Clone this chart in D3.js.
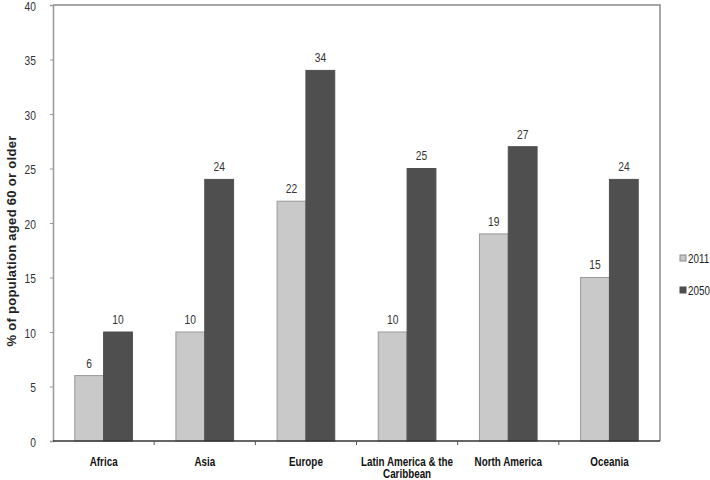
<!DOCTYPE html>
<html>
<head>
<meta charset="utf-8">
<script src="https://cdn.jsdelivr.net/npm/d3@7"></script>
<style>
  body { margin: 0; background: #fff; }
  text { font-family: "Liberation Sans Narrow", "Arial Narrow", "Liberation Sans", Arial, sans-serif; }
  .narrow { transform-box: fill-box; transform-origin: center; transform: scaleX(0.82); }
  .narrow-end { transform-box: fill-box; transform-origin: right center; transform: scaleX(0.82); }
  .narrow-start { transform-box: fill-box; transform-origin: left center; transform: scaleX(0.82); }
</style>
</head>
<body>
<div id="chart"></div>
<script>
const regions = ["Africa", "Asia", "Europe", "Latin America & the Caribbean", "North America", "Oceania"];
const regionLines = [["Africa"], ["Asia"], ["Europe"], ["Latin America & the", "Caribbean"], ["North America"], ["Oceania"]];
const years = ["2011", "2050"];
const values2011 = [6, 10, 22, 10, 19, 15];
const values2050 = [10, 24, 34, 25, 27, 24];
const yTicks = [0, 5, 10, 15, 20, 25, 30, 35, 40];

const width = 710;
const height = 480;
const margin = { top: 5, right: 50, bottom: 39, left: 53 };
const colors = { "2011": "#c9c9c9", "2050": "#4f4f4f" };

const svg = d3.select("#chart")
    .append("svg")
    .attr("width", width)
    .attr("height", height);

const x0 = d3.scaleBand()
    .domain(regions)
    .range([margin.left, width - margin.right])
    .paddingInner(0.43)
    .paddingOuter(0.215);

const x1 = d3.scaleBand()
    .domain(years)
    .range([0, x0.bandwidth()]);

const y = d3.scaleLinear()
    .domain([0, 40])
    .range([height - margin.bottom, margin.top]);

const data = regions.map((r, i) => ({ region: r, values: [
    { year: "2011", value: values2011[i] },
    { year: "2050", value: values2050[i] }
]}));

// frame: top and right
svg.append("path")
    .attr("d", `M${margin.left},${margin.top}H${width - margin.right}V${height - margin.bottom}`)
    .attr("fill", "none")
    .attr("stroke", "#8a8a8a")
    .attr("stroke-width", 1.5);

// y axis
const yAxis = svg.append("g")
    .attr("transform", `translate(${margin.left},0)`)
    .call(d3.axisLeft(y).tickValues(yTicks).tickSize(3).tickPadding(14));
yAxis.select(".domain").attr("stroke", "#999").attr("stroke-width", 1.5);
yAxis.selectAll(".tick line").attr("stroke", "#999");
yAxis.selectAll(".tick text")
    .attr("class", "narrow-end")
    .attr("font-size", 12.5)
    .attr("dy", "0.42em")
    .attr("fill", "#333")
    .style("font-family", "'Liberation Sans', Arial, sans-serif");

// bars
const groups = svg.selectAll("g.group")
    .data(data)
    .enter()
    .append("g")
    .attr("class", "group")
    .attr("transform", d => `translate(${x0(d.region)},0)`);

groups.selectAll("rect")
    .data(d => d.values)
    .enter()
    .append("rect")
    .attr("x", d => x1(d.year))
    .attr("y", d => y(d.value))
    .attr("width", x1.bandwidth())
    .attr("height", d => y(0) - y(d.value))
    .attr("fill", d => colors[d.year])
    .attr("stroke", d => d.year === "2011" ? "#999" : "#4f4f4f")
    .attr("stroke-width", 1);

groups.selectAll("text.val")
    .data(d => d.values)
    .enter()
    .append("text")
    .attr("class", "val narrow")
    .attr("x", d => x1(d.year) + x1.bandwidth() / 2)
    .attr("y", d => y(d.value) - 8)
    .attr("text-anchor", "middle")
    .attr("font-size", 12.5)
    .attr("fill", "#333")
    .text(d => d.value);

// x axis
const xAxis = svg.append("g")
    .attr("transform", `translate(0,${y(0)})`);
xAxis.append("line")
    .attr("x1", margin.left).attr("x2", width - margin.right)
    .attr("stroke", "#333").attr("stroke-width", 1.5);
xAxis.selectAll("line.tick")
    .data(regions.slice(1))
    .enter()
    .append("line")
    .attr("class", "tick")
    .attr("x1", d => x0(d) - x0.step() * x0.paddingInner() / 2)
    .attr("x2", d => x0(d) - x0.step() * x0.paddingInner() / 2)
    .attr("y1", 0).attr("y2", 4)
    .attr("stroke", "#555");

xAxis.selectAll("text.cat")
    .data(regions)
    .enter()
    .append("text")
    .attr("class", "cat narrow")
    .attr("x", d => x0(d) + x0.bandwidth() / 2)
    .attr("y", 25)
    .attr("text-anchor", "middle")
    .attr("font-size", 12)
    .attr("font-weight", "bold")
    .attr("fill", "#111")
    .each(function(d, i) {
        d3.select(this).selectAll("tspan")
            .data(regionLines[i])
            .enter()
            .append("tspan")
            .attr("x", x0(d) + x0.bandwidth() / 2)
            .attr("dy", (t, j) => j === 0 ? 0 : 12.5)
            .text(t => t);
    });

// y axis title
svg.append("text")
    .attr("transform", "translate(16,241) rotate(-90)")
    .attr("text-anchor", "middle")
    .attr("font-size", 13)
    .attr("font-weight", "bold")
    .attr("letter-spacing", 0.3)
    .attr("fill", "#222")
    .style("font-family", "'Liberation Sans', Arial, sans-serif")
    .text("% of population aged 60 or older");

// legend
const legend = svg.selectAll("g.legend")
    .data(years)
    .enter()
    .append("g")
    .attr("class", "legend")
    .attr("transform", (d, i) => `translate(680,${259 + i * 32})`);

legend.append("rect")
    .attr("x", 0).attr("y", -4)
    .attr("width", 6).attr("height", 6)
    .attr("fill", d => colors[d])
    .attr("stroke", d => d === "2011" ? "#888" : "#4f4f4f");

legend.append("text")
    .attr("class", "narrow-start")
    .attr("x", 8).attr("y", 4)
    .attr("font-size", 12)
    .attr("fill", "#222")
    .text(d => d);
</script>
</body>
</html>
